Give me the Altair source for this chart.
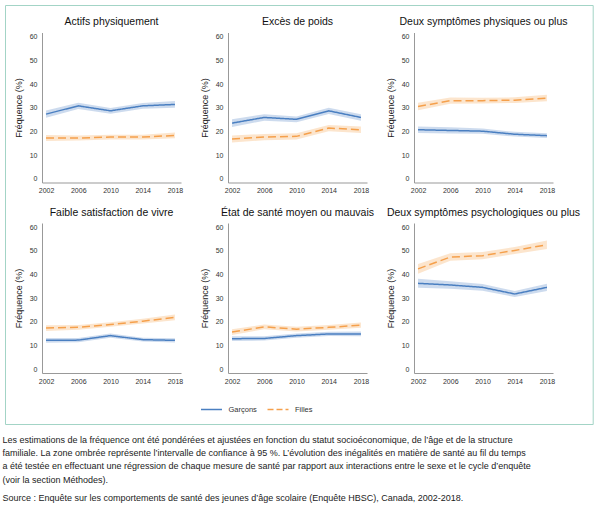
import altair as alt
import pandas as pd

FONT = "Liberation Sans"

years = [2002, 2006, 2010, 2014, 2018]
sexes = ["Garçons", "Filles"]
indicators = [
    "Actifs physiquement",
    "Excès de poids",
    "Deux symptômes physiques ou plus",
    "Faible satisfaction de vivre",
    "État de santé moyen ou mauvais",
    "Deux symptômes psychologiques ou plus",
]

boys_actifs = [27.3, 30.8, 28.7, 30.8, 31.4]
boys_poids = [23.5, 25.9, 25.1, 28.7, 25.9]
boys_phys = [20.7, 20.4, 20.1, 18.8, 18.2]
boys_satisf = [12.2, 12.3, 14.2, 12.5, 12.2]
boys_sante = [12.9, 13.0, 14.2, 14.9, 14.9]
boys_psy = [36.3, 35.6, 34.6, 31.8, 34.6]

girls_actifs = [17.2, 17.2, 17.6, 17.6, 18.3]
girls_poids = [16.8, 17.6, 17.9, 21.4, 20.7]
girls_phys = [30.5, 33.0, 33.0, 33.2, 34.1]
girls_satisf = [17.4, 17.7, 18.9, 20.3, 21.9]
girls_sante = [15.7, 17.9, 16.9, 17.7, 18.6]
girls_psy = [42.4, 47.4, 48.0, 50.2, 52.6]

# half-width of the 95 % confidence band (read from the shaded zone)
boys_ci = [
    [1.5, 1.3, 1.2, 1.2, 1.4],
    [1.6, 1.4, 1.2, 1.3, 1.4],
    [1.4, 1.3, 1.1, 1.0, 1.0],
    [1.0, 0.9, 0.9, 0.8, 0.9],
    [1.0, 0.9, 0.9, 0.9, 1.0],
    [1.9, 1.6, 1.4, 1.3, 1.5],
]
girls_ci = [
    [1.3, 1.1, 1.0, 1.0, 1.2],
    [1.5, 1.3, 1.3, 1.3, 1.4],
    [1.6, 1.3, 1.2, 1.2, 1.4],
    [1.2, 1.0, 1.0, 1.0, 1.2],
    [1.2, 1.0, 1.0, 1.0, 1.1],
    [2.1, 1.6, 1.5, 1.5, 1.8],
]

boys_all = [boys_actifs, boys_poids, boys_phys, boys_satisf, boys_sante, boys_psy]
girls_all = [girls_actifs, girls_poids, girls_phys, girls_satisf, girls_sante, girls_psy]

caption_lines = [
    "Les estimations de la fréquence ont été pondérées et ajustées en fonction du statut socioéconomique, de l’âge et de la structure",
    "familiale. La zone ombrée représente l’intervalle de confiance à 95 %. L’évolution des inégalités en matière de santé au fil du temps",
    "a été testée en effectuant une régression de chaque mesure de santé par rapport aux interactions entre le sexe et le cycle d’enquête",
    "(voir la section Méthodes).",
]
source_line = "Source : Enquête sur les comportements de santé des jeunes d’âge scolaire (Enquête HBSC), Canada, 2002-2018."

rows = []
for k, ind in enumerate(indicators):
    for sex, vals, cis in (("Garçons", boys_all[k], boys_ci[k]), ("Filles", girls_all[k], girls_ci[k])):
        for yr, v, h in zip(years, vals, cis):
            rows.append({"indicator": ind, "sex": sex, "year": yr, "value": v, "lo": v - h, "hi": v + h})
df = pd.DataFrame(rows)

BLUE = "#4a7fc1"
ORANGE = "#f5a04c"
color_scale = alt.Scale(domain=sexes, range=[BLUE, ORANGE])
dash_scale = alt.Scale(domain=sexes, range=[[1, 0], [8, 4]])

x_axis = alt.Axis(values=years, format="d", title=None, grid=False, ticks=False, tickSize=0,
                  labelFontSize=7, labelPadding=4, labelColor="#333", labelFont=FONT,
                  labelFlush=False, domainColor="#999", domainWidth=1)
y_axis = alt.Axis(values=[0, 10, 20, 30, 40, 50, 60], title="Fréquence (%)", grid=False, ticks=False,
                  tickSize=0, labelFontSize=7, labelPadding=5, labelColor="#333", labelFont=FONT,
                  titleFontSize=9, titleFont=FONT, titleFontWeight="normal", titleColor="#222",
                  titlePadding=6, domainColor="#999", domainWidth=1)
x_scale = alt.Scale(domain=[2001.5, 2018.75], nice=False, zero=False)
y_scale = alt.Scale(domain=[-1.6, 61.8], nice=False, zero=False)


def panel(ind):
    base = alt.Chart(df).transform_filter(alt.datum.indicator == ind)
    band = base.mark_area(opacity=0.28).encode(
        x=alt.X("year:Q", scale=x_scale, axis=x_axis),
        y=alt.Y("lo:Q", scale=y_scale, axis=y_axis),
        y2="hi:Q",
        color=alt.Color("sex:N", scale=color_scale, legend=None),
    )
    line = base.mark_line(strokeWidth=1.5).encode(
        x=alt.X("year:Q", scale=x_scale, axis=x_axis),
        y=alt.Y("value:Q", scale=y_scale, axis=y_axis),
        color=alt.Color("sex:N", scale=color_scale, legend=None),
        strokeDash=alt.StrokeDash("sex:N", scale=dash_scale, legend=None),
    )
    return alt.layer(band, line).properties(
        width=139, height=150,
        title=alt.TitleParams(ind, fontSize=10.5, font=FONT, fontWeight="normal", anchor="middle",
                              frame="group", offset=5, color="#111"),
    )


panels = [panel(ind) for ind in indicators]

# footer: frame, legend and notes
leg_df = pd.DataFrame({"sex": sexes})
leg_x = alt.X("sex:N", scale=alt.Scale(type="point", domain=sexes, range=[169.5, 236], padding=0), axis=None)
leg_sym = alt.Chart(leg_df).mark_point(shape="stroke", size=440, strokeWidth=1.5, filled=False, opacity=1).encode(
    x=leg_x,
    y=alt.value(-4),
    color=alt.Color("sex:N", scale=color_scale, legend=None),
    strokeDash=alt.StrokeDash("sex:N", scale=alt.Scale(domain=sexes, range=[[1, 0], [6, 3]]), legend=None),
)
leg_txt = alt.Chart(leg_df).mark_text(align="left", baseline="middle", dx=17, fontSize=7.5, font=FONT,
                                      color="#333").encode(x=leg_x, y=alt.value(-4), text="sex:N")
frame = alt.Chart(alt.Data(values=[{"f": 1}])).mark_rect(fillOpacity=0, stroke="#a3d4c6", strokeWidth=1).encode(
    x=alt.value(-36.5), x2=alt.value(551.2), y=alt.value(-408), y2=alt.value(11)
)
cap = alt.Chart(pd.DataFrame({"t": ["\n".join(caption_lines)]})).mark_text(
    align="left", baseline="alphabetic", lineBreak="\n", lineHeight=13.3, fontSize=9, font=FONT, color="#222"
).encode(x=alt.value(-39.5), y=alt.value(29.3), text="t:N")
src = alt.Chart(pd.DataFrame({"t": [source_line]})).mark_text(
    align="left", baseline="alphabetic", fontSize=9, font=FONT, color="#222"
).encode(x=alt.value(-39.5), y=alt.value(87.3), text="t:N")

footer = alt.layer(frame, leg_sym, leg_txt, cap, src).properties(width=139, height=80)

chart = alt.concat(*panels, footer, columns=3, spacing={"row": 40.5, "column": 47}, bounds="flush").resolve_scale(
    strokeDash="independent"
).properties(
    padding={"left": 2, "top": 4.5, "right": 4, "bottom": 2}
).configure(font=FONT).configure_view(stroke=None)

chart.save("out.html", embed_options={"renderer": "svg", "actions": False})
